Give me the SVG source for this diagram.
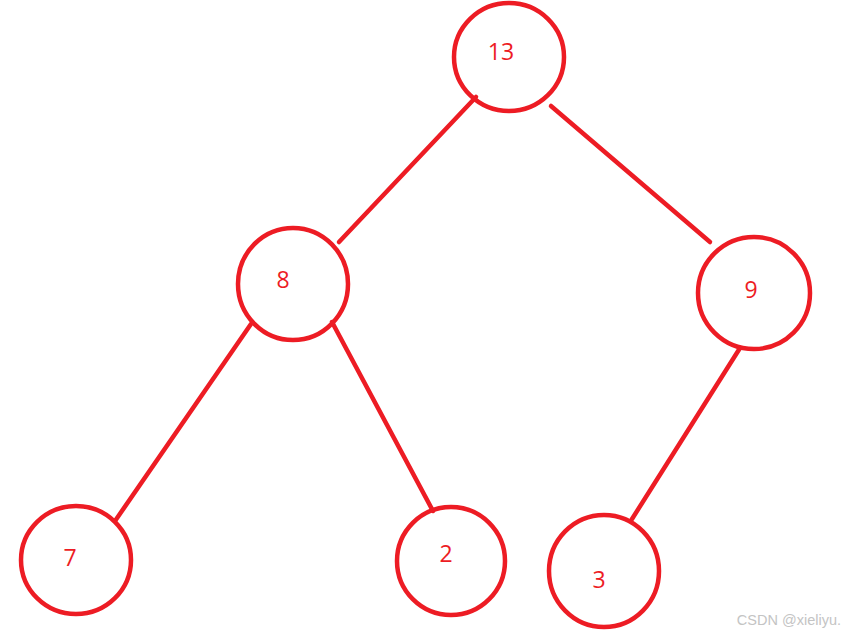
<svg xmlns="http://www.w3.org/2000/svg" width="850" height="634" viewBox="0 0 850 634">
<style>
.n{fill:none;stroke:#ED1C24;stroke-width:4.5}
.t{fill:#ED1C24;font-family:"Open Sans","Liberation Sans",sans-serif;font-size:23px;text-anchor:middle;dominant-baseline:central}
.e{stroke:#ED1C24;stroke-width:4.5;stroke-linecap:round;fill:none}
.w{fill:#c4c4c4;font-family:"Liberation Sans",Arial,sans-serif;font-size:14.5px;text-anchor:end}
</style>
<rect width="850" height="634" fill="#fff"/>
<g id="edges">
<line class="e" x1="476" y1="97" x2="339" y2="242"/>
<line class="e" x1="551" y1="106" x2="710" y2="242"/>
<line class="e" x1="251" y1="324" x2="115" y2="521"/>
<line class="e" x1="332" y1="322" x2="433" y2="511"/>
<line class="e" x1="740" y1="348" x2="632" y2="519"/>
</g>
<g id="n13"><ellipse class="n" cx="509" cy="57" rx="55" ry="54"/><text class="t" x="501" y="51">13</text></g>
<g id="n8"><ellipse class="n" cx="293" cy="284" rx="55" ry="56"/><text class="t" x="283" y="279">8</text></g>
<g id="n9"><ellipse class="n" cx="754" cy="293" rx="56" ry="56"/><text class="t" x="751" y="289">9</text></g>
<g id="n7"><ellipse class="n" cx="76" cy="560" rx="55" ry="54"/><text class="t" x="70" y="557">7</text></g>
<g id="n2"><ellipse class="n" cx="451" cy="561" rx="54" ry="54"/><text class="t" x="446" y="553">2</text></g>
<g id="n3"><ellipse class="n" cx="604" cy="571" rx="55" ry="56"/><text class="t" x="599" y="579">3</text></g>
<text class="w" x="841" y="625">CSDN @xieliyu.</text>
</svg>
